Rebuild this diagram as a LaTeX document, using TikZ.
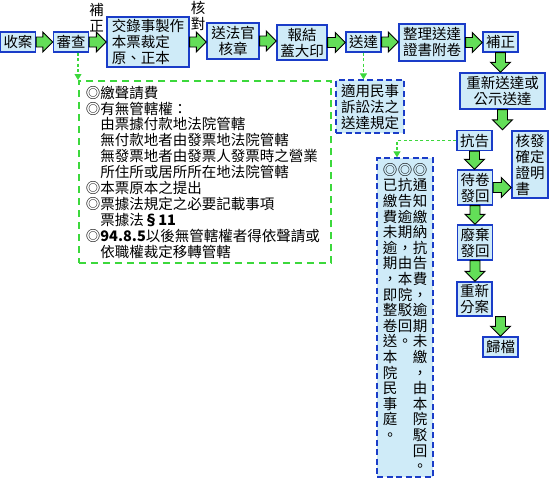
\documentclass[tikz,border=0pt]{standalone}
\usepackage{fontspec}
\newfontfamily\zhfont{Noto Sans CJK TC}
\usetikzlibrary{arrows.meta,calc}

\definecolor{caseblue}{HTML}{1A3CC8}
\definecolor{caselight}{HTML}{CFEBF8}
\definecolor{flowgreen}{HTML}{63DE58}
\definecolor{notegreen}{HTML}{3CD83C}

\newcommand\hblock[2]{%
  \draw[blockarrow] ($(#1.east)+(0,-5)$) -- ($(#2.west|-#1.east)+(-10,-5)$)
    -- ++(0,-5) -- (#2.west|-#1.east) -- ($(#2.west|-#1.east)+(-10,10)$)
    -- ++(0,-5) -- ($(#1.east)+(0,5)$) -- cycle;}
\newcommand\vblock[2]{%
  \draw[blockarrow] ($#1+(-5,0)$) -- ($#2+(-5,-10)$) -- ++(-5,0) -- #2
    -- ($#2+(10,-10)$) -- ++(-5,0) -- ($#1+(5,0)$) -- cycle;}

\ExplSyntaxOn
\NewDocumentCommand\vcolumn{m}{
  \tl_clear:N \l_tmpa_tl
  \tl_map_inline:nn {#1} { \tl_put_right:Nn \l_tmpa_tl { \hbox_to_wd:nn {1em} { \hss ##1 \hss } } }
  \vbox_top:n { \lineskiplimit=-100pt \relax \l_tmpa_tl }
}
\ExplSyntaxOff

\begin{document}
\begin{tikzpicture}[x=1pt,y=-1pt,font={\zhfont\fontsize{14.5pt}{16pt}\selectfont}]
        \tikzset{
            stepbox/.style={
                draw=caseblue,
                fill=caselight,
                line width=1.3pt,
                inner xsep=3pt,
                inner ysep=2pt,
                minimum width=34pt,
                minimum height=20pt,
                align=center
            },
            stepnote/.style={stepbox,dash pattern=on 6pt off 3.5pt},
            sidenote/.style={
                stepnote,
                inner xsep=5.5pt,
                inner ysep=3.5pt,
                font={\zhfont\fontsize{14.5pt}{15.6pt}\selectfont}
            },
            checklist/.style={
                draw=notegreen,
                fill=white,
                line width=1.8pt,
                dash pattern=on 7pt off 5pt,
                anchor=north west,
                text width=238pt,
                inner xsep=7pt,
                inner ysep=5pt,
                minimum height=182pt,
                align=left,
                font={\zhfont\fontsize{14.5pt}{15.9pt}\selectfont}
            },
            sidelabel/.style={align=center,inner sep=0pt},
            blockarrow/.style={draw=black,fill=flowgreen,line width=0.9pt},
            notelink/.style={
                -{Triangle[length=6pt,width=7pt]},
                draw=notegreen,
                line width=1.1pt,
                dash pattern=on 3pt off 2.5pt
            }
        }

        \useasboundingbox (0,0) rectangle (550,482);

        \node[stepbox] (shouan) at (18,42) {收案};
        \node[stepbox] (shencha) at (71,42) {審查};
        \node[stepbox,align=left,minimum width=82pt,minimum height=50pt] (jiaolu) at (148,42)
            {交錄事製作\\本票裁定\\原、正本};
        \node[stepbox,minimum width=52pt,minimum height=36pt] (songfaguan) at (233,41)
            {送法官\\核章};
        \node[stepbox,minimum width=50pt,minimum height=35pt] (baojie) at (302,42.5)
            {報結\\蓋大印};
        \node[stepbox] (songda) at (363.5,42) {送達};
        \node[stepbox,minimum width=66pt,minimum height=37pt] (zhengli) at (432,42.5)
            {整理送達\\證書附卷};
        \node[stepbox] (buzheng) at (500.5,42) {補正};

        \node[sidelabel] (buzhenglabel) at (96.5,17.5) {補\\正};
        \node[sidelabel] (hedui) at (198,16) {核\\對};

        \node[stepbox,minimum width=85pt,minimum height=36pt] (chongxin) at (502.5,91)
            {重新送達或\\公示送達};
        \node[stepbox] (kanggao) at (474.5,140.5) {抗告};
        \node[stepbox,align=left,minimum width=36pt,minimum height=67pt] (hefa) at (530,164.5)
            {核發\\確定\\證明\\書};
        \node[stepbox,minimum height=35pt] (daijuan) at (475,187.5) {待卷\\發回};
        \node[stepbox,minimum height=35pt] (feiqi) at (475,242.5) {廢棄\\發回};
        \node[stepbox,minimum height=34pt] (fenan) at (474.5,299) {重新\\分案};
        \node[stepbox] (guidang) at (500.5,347) {歸檔};

        \node[stepnote,minimum width=68pt,minimum height=53pt] (shiyong) at (370,106.5)
            {適用民事\\訴訟法之\\送達規定};
        \node[sidenote,minimum width=56pt,minimum height=319pt] (yijiao) at (405,317.5)
            {\vcolumn{◎已繳費未逾期，即整卷送本院民事庭。}\hspace{0.5pt}%
             \vcolumn{◎抗告逾期，由本院駁回。}\hspace{0.5pt}%
             \vcolumn{◎通知繳納抗告費，逾期未繳，由本院駁回。}};

        \node[checklist] (checklist) at (78,80)
            {◎繳聲請費\\
             ◎有無管轄權：\\
             \hspace*{1em}由票據付款地法院管轄\\
             \hspace*{1em}無付款地者由發票地法院管轄\\
             \hspace*{1em}無發票地者由發票人發票時之營業\\
             \hspace*{1em}所住所或居所所在地法院管轄\\
             ◎本票原本之提出\\
             ◎票據法規定之必要記載事項\\
             \hspace*{1em}票據法\textbf{§11}\\
             ◎\textbf{94.8.5}以後無管轄權者得依聲請或\\
             \hspace*{1em}依職權裁定移轉管轄};

        \hblock{shouan}{shencha}
        \hblock{shencha}{jiaolu}
        \hblock{jiaolu}{songfaguan}
        \hblock{songfaguan}{baojie}
        \hblock{baojie}{songda}
        \hblock{songda}{zhengli}
        \hblock{zhengli}{buzheng}
        \vblock{(buzheng.south)}{(buzheng.south|-chongxin.north)}
        \vblock{(chongxin.south)}{(chongxin.south|-kanggao.north)}
        \vblock{(kanggao.south)}{(kanggao.south|-daijuan.north)}
        \hblock{daijuan}{hefa}
        \vblock{(daijuan.south)}{(daijuan.south|-feiqi.north)}
        \vblock{(feiqi.south)}{(feiqi.south|-fenan.north)}
        \vblock{(fenan.south-|guidang.north)}{(guidang.north)}

        \draw[notelink] (shencha.south-|checklist.north west) -- (checklist.north west);
        \draw[notelink] (songda.south) -- (songda.south|-shiyong.north);
        \draw[notelink] (kanggao.west) -| ($(yijiao.north)+(-8,0)$);
    \end{tikzpicture}
\end{document}
